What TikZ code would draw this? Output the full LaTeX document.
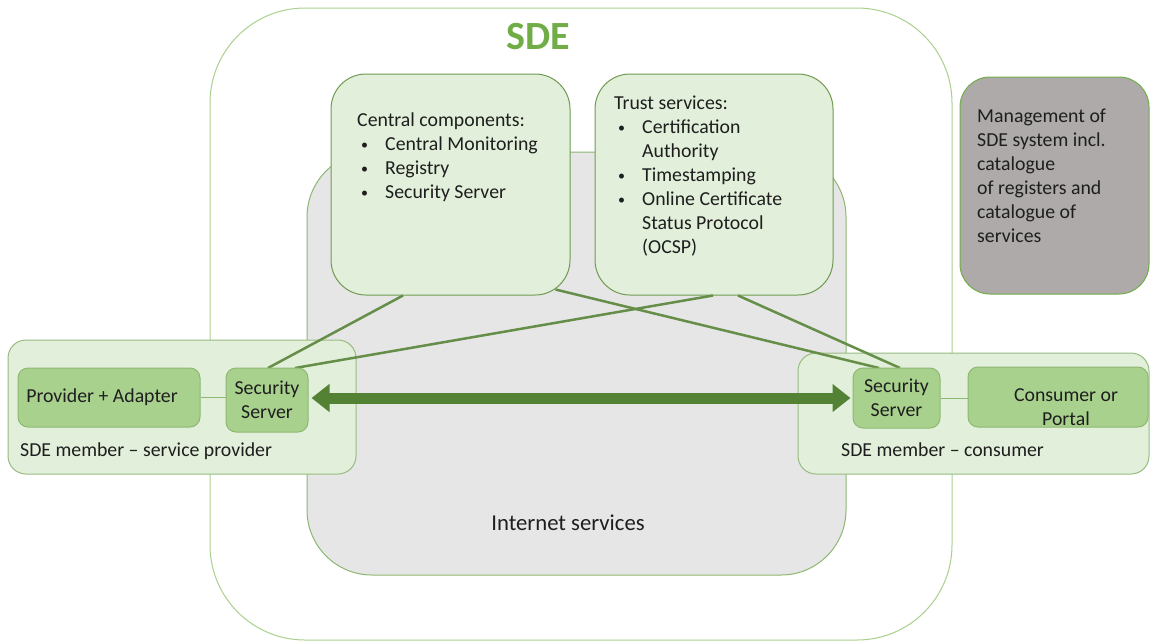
\documentclass[tikz,border=0pt]{standalone}
\usepackage{fontspec}
\setmainfont{Carlito}
\usetikzlibrary{arrows.meta,calc}
\definecolor{lgreen}{HTML}{E2EFDA}
\definecolor{mgreen}{HTML}{A9D18E}
\definecolor{dgreen}{HTML}{548235}
\definecolor{tgreen}{HTML}{70AD47}
\definecolor{bgreen}{HTML}{6F9B52}
\definecolor{igray}{HTML}{E7E6E6}
\definecolor{mgray}{HTML}{AEAAAA}
\definecolor{txt}{HTML}{1E1E1E}
\definecolor{sgreen}{HTML}{8DB872}
\tikzset{
  txtfont/.style={font=\fontsize{19.8}{24}\selectfont, text=txt},
  boxbase/.style={inner sep=0pt, line width=1pt},
  outerbox/.style={boxbase, draw=mgreen, fill=white, rounded corners=95pt},
  netbox/.style={boxbase, draw=sgreen, fill=igray, rounded corners=65pt},
  centralbox/.style={boxbase, draw=bgreen, fill=lgreen, rounded corners=35pt},
  mgmtbox/.style={boxbase, draw=tgreen, fill=mgray, rounded corners=30pt},
  memberbox/.style={boxbase, draw=mgreen!90!black, fill=lgreen, rounded corners=18pt},
  innerbox/.style={boxbase, txtfont, draw=sgreen, fill=mgreen, rounded corners=10pt, align=center},
  lbl/.style={txtfont, inner sep=0pt, align=left},
  wire/.style={draw=dgreen!90!white, line width=2.5pt},
  thinwire/.style={draw=sgreen, line width=1pt},
  bigarrow/.style={draw=dgreen, line width=11pt, {Triangle[length=18pt,width=27pt]}-{Triangle[length=18pt,width=27pt]}},
}
\newcommand{\bul}{\hspace*{4pt}\makebox[24pt][l]{\raisebox{1pt}{\fontsize{14}{14}\selectfont\textbullet}}}
\newcommand{\ind}{\hspace*{28pt}}
\begin{document}
\begin{tikzpicture}[x=1pt,y=-1pt]
\useasboundingbox (0,0) rectangle (1150,641);
% SDE outer
\node[outerbox, minimum width=742pt, minimum height=632pt] (sde) at (581,324) {};
\node[font=\fontsize{40}{44}\selectfont\bfseries, text=tgreen, inner sep=0pt, anchor=base] (sdetitle) at (538,49) {SDE};
% internet services
\node[netbox, minimum width=539pt, minimum height=423pt] (net) at (576.5,363.5) {};
\node[lbl, font=\fontsize{22.7}{26}\selectfont, anchor=base] (netlbl) at (568,530) {Internet services};
% central components
\node[centralbox, minimum width=239pt, minimum height=221pt] (cc) at (450.5,184.5) {};
\node[lbl, anchor=north west] (cclbl) at (357,113) {Central components:\\
\bul Central Monitoring\\
\bul Registry\\
\bul Security Server};
% trust services
\node[centralbox, minimum width=238pt, minimum height=221pt] (ts) at (714,184.5) {};
\node[lbl, anchor=north west] (tslbl) at (614,95.5) {Trust services:\\
\bul Certification\\
\ind Authority\\
\bul Timestamping\\
\bul Online Certificate\\
\ind Status Protocol\\
\ind (OCSP)};
% management
\node[mgmtbox, minimum width=189pt, minimum height=217pt] (mg) at (1054.5,185.5) {};
\node[lbl, anchor=north west] (mglbl) at (977,108.5) {Management of\\
SDE system incl.\\
catalogue\\
of registers and\\
catalogue of\\
services};
% member boxes
\node[memberbox, minimum width=348pt, minimum height=134pt] (mp) at (182,407) {};
\node[lbl, anchor=base west] (mplbl) at (20,456) {SDE member -- service provider};
\node[memberbox, minimum width=351pt, minimum height=121pt] (mc) at (973.5,413.5) {};
\node[lbl, anchor=base west] (mclbl) at (841,456) {SDE member -- consumer};
% inner box centres
\path (267,400) coordinate (sslc) (896.5,398) coordinate (ssrc);
% connectors from central parts
\draw[wire] ($(cc.south)+(-47.5,0)$) -- ($(sslc)+(1,-32)$);
\draw[wire] ($(ts.south)+(-1,0)$) -- ($(sslc)+(28,-32)$);
\draw[wire] ($(cc.south east)+(-15,-6)$) -- ($(ssrc)+(-17.5,-30)$);
\draw[wire] ($(ts.south)+(24,0)$) -- ($(ssrc)+(3.5,-30)$);
% inner boxes
\node[innerbox, minimum width=182pt, minimum height=59pt] (pa) at (109,397.5) {\hspace*{-14pt}Provider + Adapter};
\node[innerbox, minimum width=82pt, minimum height=64pt] (ssl) at (sslc) {Security\\Server};
\node[innerbox, minimum width=87pt, minimum height=60pt] (ssr) at (ssrc) {Security\\Server};
\node[innerbox, minimum width=180pt, minimum height=60pt] (cp) at (1058,397) {};
\node[lbl, align=center] (cplbl) at (1066,407) {Consumer or\\Portal};
\draw[thinwire] (pa.east) -- (pa.east -| ssl.west);
\draw[thinwire] (ssr.east) -- (ssr.east -| cp.west);
\draw[bigarrow, shorten <=3pt, shorten >=2pt] (ssl.east |- 0,398) -- (ssr.west |- 0,398);
\end{tikzpicture}
\end{document}
